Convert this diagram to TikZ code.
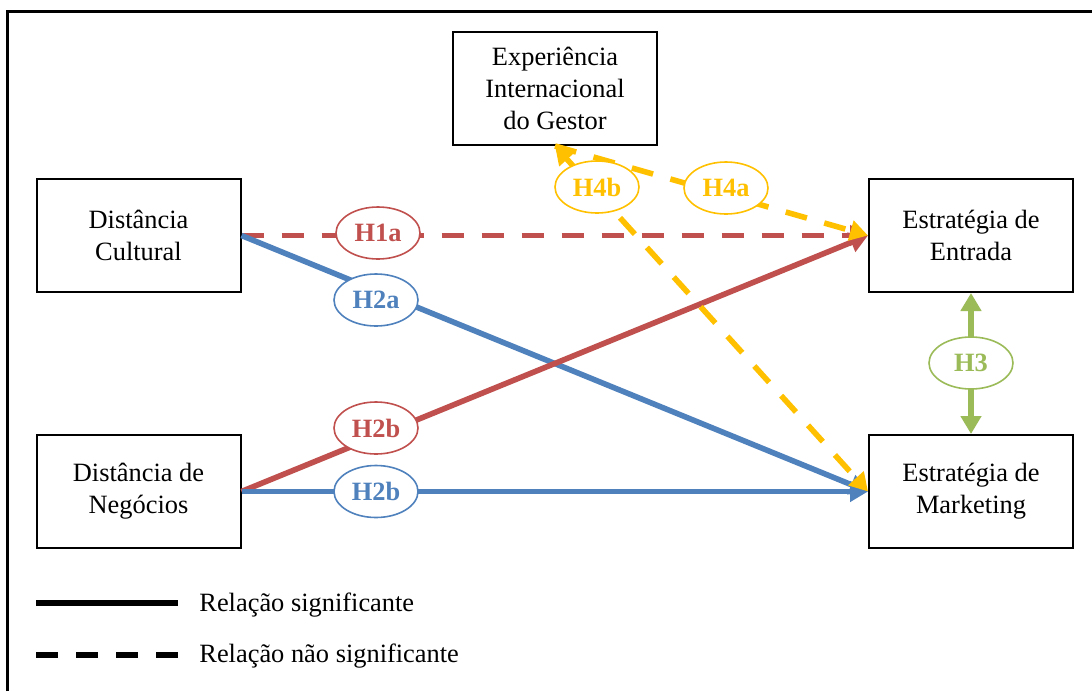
\documentclass[tikz,border=0pt]{standalone}
\usepackage{fontspec}
\setmainfont{Liberation Serif}
\usetikzlibrary{shapes.geometric,arrows.meta}

\definecolor{hred}{HTML}{C0504D}
\definecolor{hblue}{HTML}{4F81BD}
\definecolor{hgold}{HTML}{FFC000}
\definecolor{hgreen}{HTML}{9BBB59}

\begin{document}
\begin{tikzpicture}
	[x=0.5pt,y=-0.5pt,
	box/.style={draw,line width=1pt,minimum width=102pt,minimum height=56.5pt,align=center,font=\fontsize{13.2}{16}\selectfont},
	hyp/.style={ellipse,fill=white,line width=0.8pt,minimum width=42pt,minimum height=26pt,inner sep=0pt,font=\fontsize{13.2}{16}\selectfont\bfseries},
	link/.style={line width=2.8pt,-{Triangle[length=9pt,width=10pt]}},
	twoway/.style={line width=2.8pt,{Triangle[length=9pt,width=10pt]}-{Triangle[length=9pt,width=10pt]}},
	nsig/.style={dash pattern=on 11pt off 9pt}]

	\useasboundingbox (0,0) rectangle (1092,691);
	\draw[line width=1.5pt] (7,691) -- (7,11) -- (1092,11);

	\node[box] (C) at (138.5,235.5) {Distância\\Cultural};
	\node[box] (N) at (138.5,491.5) {Distância de\\Negócios};
	\node[box] (X) at (555,88.5) {Experiência\\Internacional\\do Gestor};
	\node[box] (E) at (971,235.5) {Estratégia de\\Entrada};
	\node[box] (M) at (971,491.5) {Estratégia de\\Marketing};

	\draw[link,nsig,hred] (C.east) -- (E.west);
	\draw[link,hblue] (C.east) -- (M.west);
	\draw[link,hred] (N.east) -- (E.west);
	\draw[link,hblue] (N.east) -- (M.west);
	\draw[link,nsig,hgold] (X.south) -- (E.west);
	\draw[twoway,nsig,hgold] (X.south) -- (M.west);
	\draw[twoway,hgreen] (E.south) -- (M.north);

	\node[hyp,draw=hred,text=hred] (h1a) at (378,233) {H1a};
	\node[hyp,draw=hblue,text=hblue] (h2a) at (376,300) {H2a};
	\node[hyp,draw=hred,text=hred] (h2br) at (376,428) {H2b};
	\node[hyp,draw=hblue,text=hblue] (h2bb) at (376,491.5) {H2b};
	\node[hyp,draw=hgold,text=hgold] (h4b) at (597,187) {H4b};
	\node[hyp,draw=hgold,text=hgold] (h4a) at (726,188) {H4a};
	\node[hyp,draw=hgreen,text=hgreen] (h3) at (971,363) {H3};

	% legenda
	\coordinate (s1) at (36,603);
	\coordinate (s2) at (178,603);
	\coordinate (n1) at (36,655);
	\coordinate (n2) at (178,655);
	\draw[line width=2.8pt] (s1) -- (s2);
	\draw[line width=2.8pt,nsig] (n1) -- (n2);
	\node[anchor=west,inner sep=0pt,font=\fontsize{13.2}{16}\selectfont] (sig) at (199,605) {Relação significante};
	\node[anchor=west,inner sep=0pt,font=\fontsize{13.2}{16}\selectfont] (nsg) at (199,656) {Relação não significante};
\end{tikzpicture}
\end{document}
